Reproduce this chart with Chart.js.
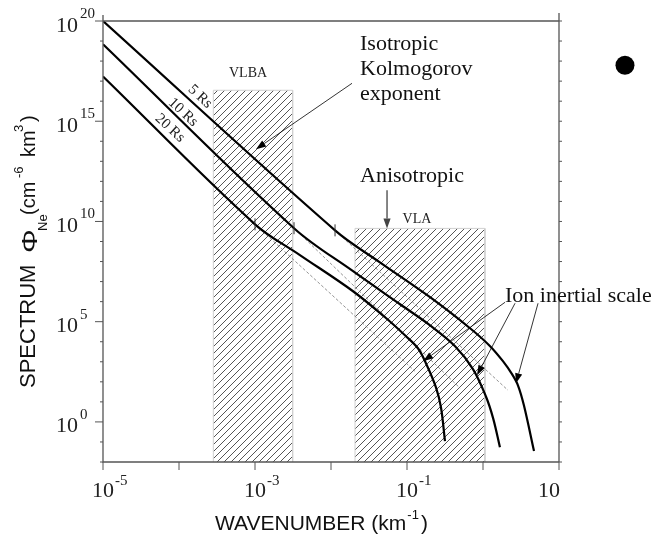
<!DOCTYPE html>
<html>
<head>
<meta charset="utf-8">
<script src="https://cdn.jsdelivr.net/npm/chart.js@4.4.0/dist/chart.umd.min.js"></script>
<style>
  html, body { margin: 0; padding: 0; background: #fff; }
  #wrap { width: 662px; height: 537px; position: relative; }
</style>
</head>
<body>
<div id="wrap"><canvas id="chart"></canvas></div>
<script>
// wavenumber (km^-1) / spectrum values
const k5 = [1e-5, 1.13e-2, 4.4e-2, 0.201, 0.675, 1.24, 1.83, 2.41, 2.89, 3.46, 4.69];
const s5 = [1e20, 3.6e9, 9.1e7, 1.66e6, 4.7e4, 6.0e3, 1.07e3, 240, 65, 6.5, 0.035];
const k10 = [1e-5, 3.26e-3, 1.95e-2, 8.1e-2, 0.201, 0.429, 0.738, 1.09, 1.36, 1.67];
const s10 = [6.9e18, 4.6e9, 3.3e7, 7.4e5, 6.6e4, 6.0e3, 430, 19, 1.5, 0.055];
const k20 = [1e-5, 1e-3, 3.9e-3, 1.95e-2, 5.14e-2, 9.4e-2, 0.140, 0.183, 0.241, 0.280, 0.316];
const s20 = [1.7e17, 7.2e9, 2.1e8, 3.3e6, 1.66e5, 2.1e4, 4.6e3, 650, 51, 5.2, 0.11];
const curveNames = ['5 Rs', '10 Rs', '20 Rs'];

// where each curve leaves the Kolmogorov slope, and the dashed continuation
const breakK = [1.13e-2, 3.26e-3, 1e-3];
const breakS = [3.6e9, 4.6e9, 7.2e9];
const dashEndK = [2.13, 0.50, 0.127];
const dashEndS = [38, 48, 340];

// observing ranges
const vlbaK = [2.83e-4, 3.13e-3];
const vlbaTop = 3.5e16;
const vlaK = [2.07e-2, 1.06];
const vlaTop = 4.5e9;

const xMin = 1e-5, xMax = 10;
const yMin = 1e-2, yMax = 1e20;
const xTicks = [1e-5, 1e-4, 1e-3, 1e-2, 1e-1, 1, 10];
const xTickExps = ['-5', null, '-3', null, '-1', null, ''];
const yTicks = [1e-2, 1e-1, 1, 1e1, 1e2, 1e3, 1e4, 1e5, 1e6, 1e7, 1e8, 1e9, 1e10,
  1e11, 1e12, 1e13, 1e14, 1e15, 1e16, 1e17, 1e18, 1e19, 1e20];
const yLabelValues = [1, 1e5, 1e10, 1e15, 1e20];
const yLabelExps = ['0', '5', '10', '15', '20'];

const SERIF = '"Liberation Serif", "Times New Roman", serif';
const SANS = '"Liberation Sans", Arial, sans-serif';

// annotations, placed in data coordinates
const notes = [
  { text: 'Isotropic', k: 2.41e-2, s: 3.5e18 },
  { text: 'Kolmogorov', k: 2.41e-2, s: 1.95e17 },
  { text: 'exponent', k: 2.41e-2, s: 1.1e16 },
  { text: 'Anisotropic', k: 2.41e-2, s: 9.3e11 },
  { text: 'Ion inertial scale', k: 1.95, s: 9.5e5 }
];
const boxNames = [
  { text: 'VLBA', k: 8.1e-4, s: 1.55e17 },
  { text: 'VLA', k: 0.135, s: 8.5e9 }
];
const curveTags = [
  { k: 1.89e-4, s: 1.7e16 },
  { k: 1.13e-4, s: 2.8e15 },
  { k: 7.6e-5, s: 4.5e14 }
];
const arrows = [
  { from: [1.89e-2, 7.8e16], to: [1.03e-3, 4.0e13], color: '#000', width: 0.8 },
  { from: [5.46e-2, 3.6e11], to: [5.46e-2, 4.5e9], color: '#444', width: 1.3 },
  { from: [1.95, 9.3e5], to: [0.163, 1.07e3], color: '#000', width: 0.8 },
  { from: [2.64, 8.3e5], to: [0.834, 213], color: '#000', width: 0.8 },
  { from: [5.3, 8.3e5], to: [2.72, 85], color: '#000', width: 0.8 }
];
const dot = { k: 73.8, s: 6.2e17 };

function pts(k, s) {
  return k.map((v, i) => ({ x: v, y: s[i] }));
}

function makeHatch() {
  const c = document.createElement('canvas');
  c.width = 7; c.height = 7;
  const g = c.getContext('2d');
  g.strokeStyle = '#555';
  g.lineWidth = 1;
  g.beginPath();
  g.moveTo(-1, 8); g.lineTo(8, -1);
  g.moveTo(-1, 1); g.lineTo(1, -1);
  g.moveTo(6, 8); g.lineTo(8, 6);
  g.stroke();
  return g.createPattern(c, 'repeat');
}
const hatch = makeHatch();

const curveSets = [[k5, s5], [k10, s10], [k20, s20]].map(([k, s], i) => ({
  label: curveNames[i],
  data: pts(k, s),
  showLine: true,
  borderColor: '#000',
  borderWidth: 2.2,
  pointRadius: 0,
  tension: 0.35,
  order: 0
}));

const dashSets = breakK.map((k, i) => ({
  label: curveNames[i] + ' Kolmogorov',
  data: [{ x: k, y: breakS[i] }, { x: dashEndK[i], y: dashEndS[i] }],
  showLine: true,
  borderColor: '#777',
  borderWidth: 0.8,
  borderDash: [3, 2],
  pointRadius: 0,
  order: 1
}));

const boxSets = [[vlbaK, vlbaTop, 'VLBA'], [vlaK, vlaTop, 'VLA']].map(([k, top, name]) => ({
  label: name,
  data: [{ x: k[0], y: yMin }, { x: k[0], y: top }, { x: k[1], y: top }, { x: k[1], y: yMin }],
  showLine: true,
  fill: 'start',
  backgroundColor: hatch,
  borderColor: '#d0d0d0',
  borderWidth: 1,
  pointRadius: 0,
  tension: 0,
  order: 5
}));

function arrow(ctx, x0, y0, x1, y1, color, width) {
  const ang = Math.atan2(y1 - y0, x1 - x0);
  const L = 10, W = 3.6;
  ctx.strokeStyle = color;
  ctx.fillStyle = color;
  ctx.lineWidth = width;
  ctx.beginPath();
  ctx.moveTo(x0, y0);
  ctx.lineTo(x1 - L * Math.cos(ang), y1 - L * Math.sin(ang));
  ctx.stroke();
  ctx.beginPath();
  ctx.moveTo(x1, y1);
  ctx.lineTo(x1 - L * Math.cos(ang) + W * Math.sin(ang), y1 - L * Math.sin(ang) - W * Math.cos(ang));
  ctx.lineTo(x1 - L * Math.cos(ang) - W * Math.sin(ang), y1 - L * Math.sin(ang) + W * Math.cos(ang));
  ctx.closePath();
  ctx.fill();
}

const overlay = {
  id: 'overlay',
  afterDraw(chart) {
    const { ctx, chartArea: a } = chart;
    const X = v => chart.scales.x.getPixelForValue(v);
    const Y = v => chart.scales.y.getPixelForValue(v);
    ctx.save();

    // frame
    ctx.strokeStyle = '#555';
    ctx.lineWidth = 1.3;
    ctx.beginPath();
    ctx.moveTo(a.left, a.top - 6); ctx.lineTo(a.left, a.bottom); ctx.lineTo(a.right, a.bottom);
    ctx.moveTo(a.left, a.top); ctx.lineTo(a.right, a.top);
    ctx.moveTo(a.right, a.top - 8); ctx.lineTo(a.right, a.bottom);
    ctx.stroke();

    // tick marks
    ctx.lineWidth = 1;
    ctx.beginPath();
    yTicks.forEach(v => {
      const py = Y(v);
      const len = yLabelValues.includes(v) ? 8 : 3;
      ctx.moveTo(a.left - len, py); ctx.lineTo(a.left, py);
      ctx.moveTo(a.right, py); ctx.lineTo(a.right + 3, py);
    });
    xTicks.forEach(v => {
      const px = X(v);
      ctx.moveTo(px, a.bottom); ctx.lineTo(px, a.bottom + 8);
    });
    ctx.stroke();

    // break marks on the curves
    ctx.strokeStyle = '#333';
    ctx.beginPath();
    breakK.forEach((k, i) => {
      const px = X(k), py = Y(breakS[i]);
      ctx.moveTo(px, py - 6); ctx.lineTo(px, py + 6);
    });
    ctx.stroke();

    // tick labels
    ctx.fillStyle = '#222';
    ctx.textBaseline = 'alphabetic';
    yLabelValues.forEach((v, i) => {
      const py = Y(v);
      ctx.font = '22px ' + SERIF;
      ctx.textAlign = 'right';
      ctx.fillText('10', a.left - 25, py + 10.5);
      ctx.font = '15px ' + SERIF;
      ctx.textAlign = 'left';
      ctx.fillText(yLabelExps[i], a.left - 23, py - 3);
    });
    xTicks.forEach((v, i) => {
      const e = xTickExps[i];
      if (e === null) return;
      const px = X(v);
      ctx.font = '22px ' + SERIF;
      ctx.textAlign = 'center';
      ctx.fillText('10', e ? px : px - 10, a.bottom + 35);
      if (e) {
        ctx.font = '15px ' + SERIF;
        ctx.textAlign = 'left';
        ctx.fillText(e, px + 12, a.bottom + 23);
      }
    });

    // x title
    ctx.fillStyle = '#111';
    ctx.textAlign = 'left';
    let tx = a.left + 112;
    const ty = a.bottom + 68;
    ctx.font = '21px ' + SANS;
    ctx.fillText('WAVENUMBER (km', tx, ty);
    tx += ctx.measureText('WAVENUMBER (km').width + 1;
    ctx.font = '13px ' + SANS;
    ctx.fillText('-1', tx, ty - 11);
    tx += ctx.measureText('-1').width + 2;
    ctx.font = '21px ' + SANS;
    ctx.fillText(')', tx, ty);

    // y title, rotated
    ctx.save();
    ctx.translate(35, a.bottom - 74);
    ctx.rotate(-Math.PI / 2);
    const parts = [
      { t: 'SPECTRUM', u: 0, f: 22, d: 0 },
      { t: '\u03A6', u: 135, f: 22, d: 2, sx: 1.35 },
      { t: 'Ne', u: 157, f: 13, d: 12 },
      { t: '(cm', u: 173, f: 20, d: 0 },
      { t: '-6', u: 210, f: 13, d: -12 },
      { t: 'km', u: 231, f: 20, d: 0 },
      { t: '3', u: 256, f: 13, d: -12 },
      { t: ')', u: 266, f: 20, d: 0 }
    ];
    parts.forEach(p => {
      ctx.font = p.f + 'px ' + SANS;
      ctx.save();
      ctx.translate(p.u, p.d);
      if (p.sx) ctx.scale(p.sx, 1);
      ctx.fillText(p.t, 0, 0);
      ctx.restore();
    });
    ctx.restore();

    // box names
    ctx.fillStyle = '#222';
    ctx.textAlign = 'center';
    ctx.font = '14px ' + SERIF;
    boxNames.forEach(n => ctx.fillText(n.text, X(n.k), Y(n.s)));

    // curve names along the lines
    ctx.font = '15px ' + SERIF;
    ctx.textBaseline = 'middle';
    curveTags.forEach((c, i) => {
      ctx.save();
      ctx.translate(X(c.k), Y(c.s));
      ctx.rotate(Math.PI / 4.2);
      ctx.fillText(curveNames[i], 0, 0);
      ctx.restore();
    });

    // callouts
    ctx.textBaseline = 'alphabetic';
    ctx.textAlign = 'left';
    ctx.font = '22px ' + SERIF;
    ctx.fillStyle = '#111';
    notes.forEach(n => ctx.fillText(n.text, X(n.k), Y(n.s)));
    arrows.forEach(r => arrow(ctx, X(r.from[0]), Y(r.from[1]), X(r.to[0]), Y(r.to[1]), r.color, r.width));

    // the filled marker right of the frame
    ctx.fillStyle = '#000';
    ctx.beginPath();
    ctx.arc(X(dot.k), Y(dot.s), 9.5, 0, Math.PI * 2);
    ctx.fill();

    ctx.restore();
  }
};

new Chart(document.getElementById('chart').getContext('2d'), {
  type: 'scatter',
  data: { datasets: [...curveSets, ...dashSets, ...boxSets] },
  options: {
    responsive: true,
    maintainAspectRatio: false,
    animation: false,
    layout: { padding: { left: 103, right: 103, top: 21, bottom: 75 } },
    plugins: { legend: { display: false }, tooltip: { enabled: false } },
    scales: {
      x: { type: 'logarithmic', min: xMin, max: xMax, display: false },
      y: { type: 'logarithmic', min: yMin, max: yMax, display: false }
    }
  },
  plugins: [overlay]
});
</script>
</body>
</html>
